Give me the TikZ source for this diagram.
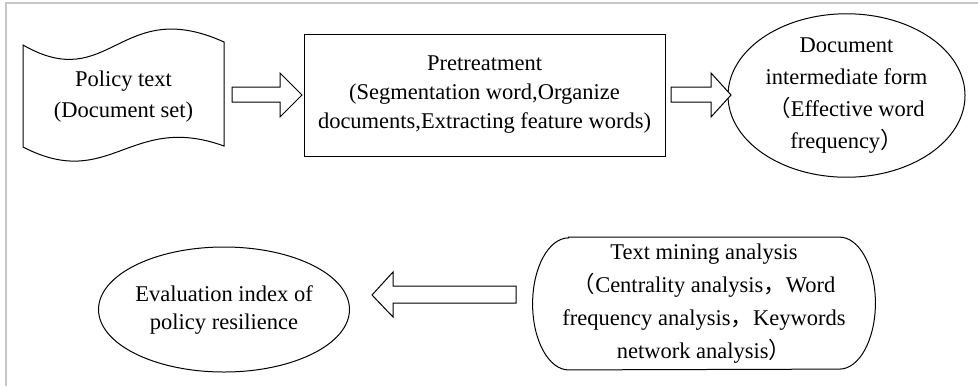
\documentclass[tikz,border=0pt]{standalone}
\usepackage{fontspec}
\setmainfont{Liberation Serif}
\newfontfamily\cjk{Noto Sans CJK SC}
\usetikzlibrary{shapes.geometric}

\tikzset{
  label text/.style={align=center, inner sep=0pt, font=\fontsize{11.25}{#1}\selectfont},
  label text/.default=14.5pt,
  outline/.style={draw, line width=0.5pt},
  blockarrow/.style={draw, line width=0.5pt, fill=white, line join=miter},
}

\begin{document}
\begin{tikzpicture}[x=0.5pt,y=-0.5pt]
  \useasboundingbox (0,0) rectangle (978,386);
  \draw[black!22, line width=1pt] (6,386) -- (6,3) -- (978,3);

  % first row
  \draw[outline] (23,45) .. controls (110,95) and (120,-5) .. (224,42) -- (224,146)
    .. controls (130,112) and (110,192) .. (23,147) -- cycle;
  \node[label text=15.5pt] (policy) at (123.5,97) {Policy text\\(Document set)};
  \node[outline, label text, rectangle, minimum width=180.5pt, minimum height=61pt] (pre) at (484.5,95)
    {Pretreatment\\(Segmentation word,Organize\\documents,Extracting feature words)};
  \node[outline, label text=16pt, ellipse, minimum width=118.5pt, minimum height=76.5pt] (form) at (846.5,95.5)
    {Document\\intermediate form\\{\cjk （}Effective word\\frequency{\cjk ）}};

  % second row
  \node[label text=16.5pt, minimum width=171pt, minimum height=66pt] (mining) at (704,303.5)
    {Text mining analysis\\{\cjk （}Centrality analysis{\cjk ，}Word\\frequency analysis{\cjk ，}Keywords\\network analysis{\cjk ）}};
  \draw[outline] ([xshift=18pt]mining.north west) -- ([xshift=-18pt]mining.north east)
    arc[start angle=90, end angle=-90, x radius=18pt, y radius=33pt]
    -- ([xshift=18pt]mining.south west)
    arc[start angle=270, end angle=90, x radius=18pt, y radius=33pt] -- cycle;
  \node[outline, label text=14pt, ellipse, minimum width=121pt, minimum height=62.5pt] (index) at (224,309.5)
    {Evaluation index of\\policy resilience};

  % hollow arrows
  \draw[blockarrow] (232,87) -- (280,87) -- (280,73) -- (302,95) -- (280,117) -- (280,102) -- (232,102) -- cycle;
  \draw[blockarrow] (671,87) -- (711,87) -- (711,73) -- (731,95) -- (711,117) -- (711,102) -- (671,102) -- cycle;
  \draw[blockarrow] (516,286) -- (393,286) -- (393,272) -- (372,295) -- (393,317) -- (393,303) -- (516,303) -- cycle;
\end{tikzpicture}
\end{document}
